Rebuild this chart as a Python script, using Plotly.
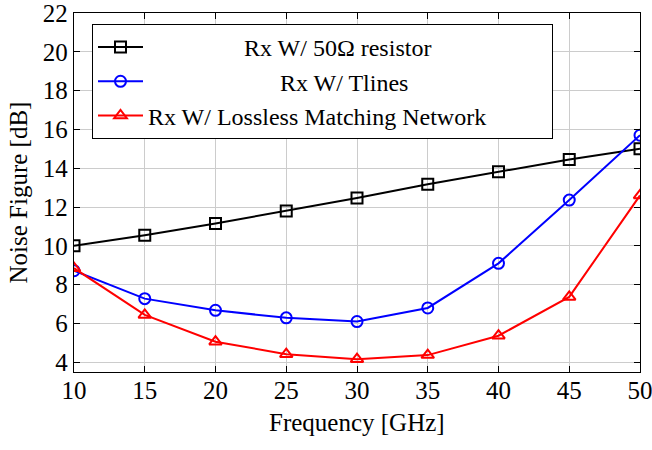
import plotly.graph_objects as go

freq = [10, 15, 20, 25, 30, 35, 40, 45, 50]
nf_resistor = [10.0, 10.55, 11.15, 11.8, 12.47, 13.18, 13.82, 14.45, 15.0]
nf_tlines = [8.72, 7.28, 6.68, 6.29, 6.1, 6.8, 9.1, 12.36, 15.7]
nf_lossless = [8.85, 6.44, 5.06, 4.42, 4.16, 4.37, 5.37, 7.37, 12.6]

names = ["Rx W/ 50Ω resistor", "Rx W/ Tlines", "Rx W/ Lossless Matching Network"]
lead_pads = [16, 22, 0]
trail_pads = [0, 0, 10]
colors = ["black", "#0000ff", "#ff0000"]
symbols = ["square-open", "circle-open", "triangle-up-open"]
series = [nf_resistor, nf_tlines, nf_lossless]

FONT = "Liberation Serif"
NBSP = "\u00a0"

fig = go.Figure()
for name, lp, tp, col, sym, ys in zip(names, lead_pads, trail_pads, colors, symbols, series):
    fig.add_trace(go.Scatter(
        x=freq, y=ys, mode="lines+markers",
        name=NBSP * lp + name + NBSP * tp,
        line=dict(color=col, width=2),
        marker=dict(symbol=sym, size=11, color=col, line=dict(color=col, width=2)),
    ))

axis_common = dict(
    showgrid=True, gridcolor="#cccccc", gridwidth=1,
    showline=True, linecolor="black", linewidth=1.3, mirror="ticks",
    ticks="inside", ticklen=6, tickcolor="black", tickwidth=1,
    zeroline=False, automargin=False, ticklabeloverflow="allow",
    tickfont=dict(family=FONT, size=25, color="black"),
)

fig.update_xaxes(range=[10, 50], tickvals=[10, 15, 20, 25, 30, 35, 40, 45, 50],
                 ticklabelstandoff=-4, **axis_common)
fig.update_yaxes(range=[3.5, 22], tickvals=[4, 6, 8, 10, 12, 14, 16, 18, 20, 22], **axis_common)

fig.update_layout(
    width=652, height=450,
    margin=dict(l=74, r=12, t=13, b=78),
    plot_bgcolor="white", paper_bgcolor="white",
    font=dict(family=FONT, size=25, color="black"),
    legend=dict(
        x=0.0318, y=0.9694, xanchor="left", yanchor="top",
        bgcolor="white", bordercolor="black", borderwidth=1,
        font=dict(family=FONT, size=24, color="black"),
        tracegroupgap=0, itemwidth=45,
    ),
    annotations=[
        dict(text="Frequency [GHz]", x=0.5, y=-0.142, xref="paper", yref="paper",
             xanchor="center", yanchor="middle", showarrow=False,
             font=dict(family=FONT, size=25, color="black")),
        dict(text="Noise Figure [dB]", x=-0.0989, y=0.5, xref="paper", yref="paper",
             xanchor="center", yanchor="middle", showarrow=False, textangle=-90,
             font=dict(family=FONT, size=25, color="black")),
    ],
)

fig.write_html("out.html", config={"displayModeBar": False},
               post_script="document.body.style.margin='0px';")
